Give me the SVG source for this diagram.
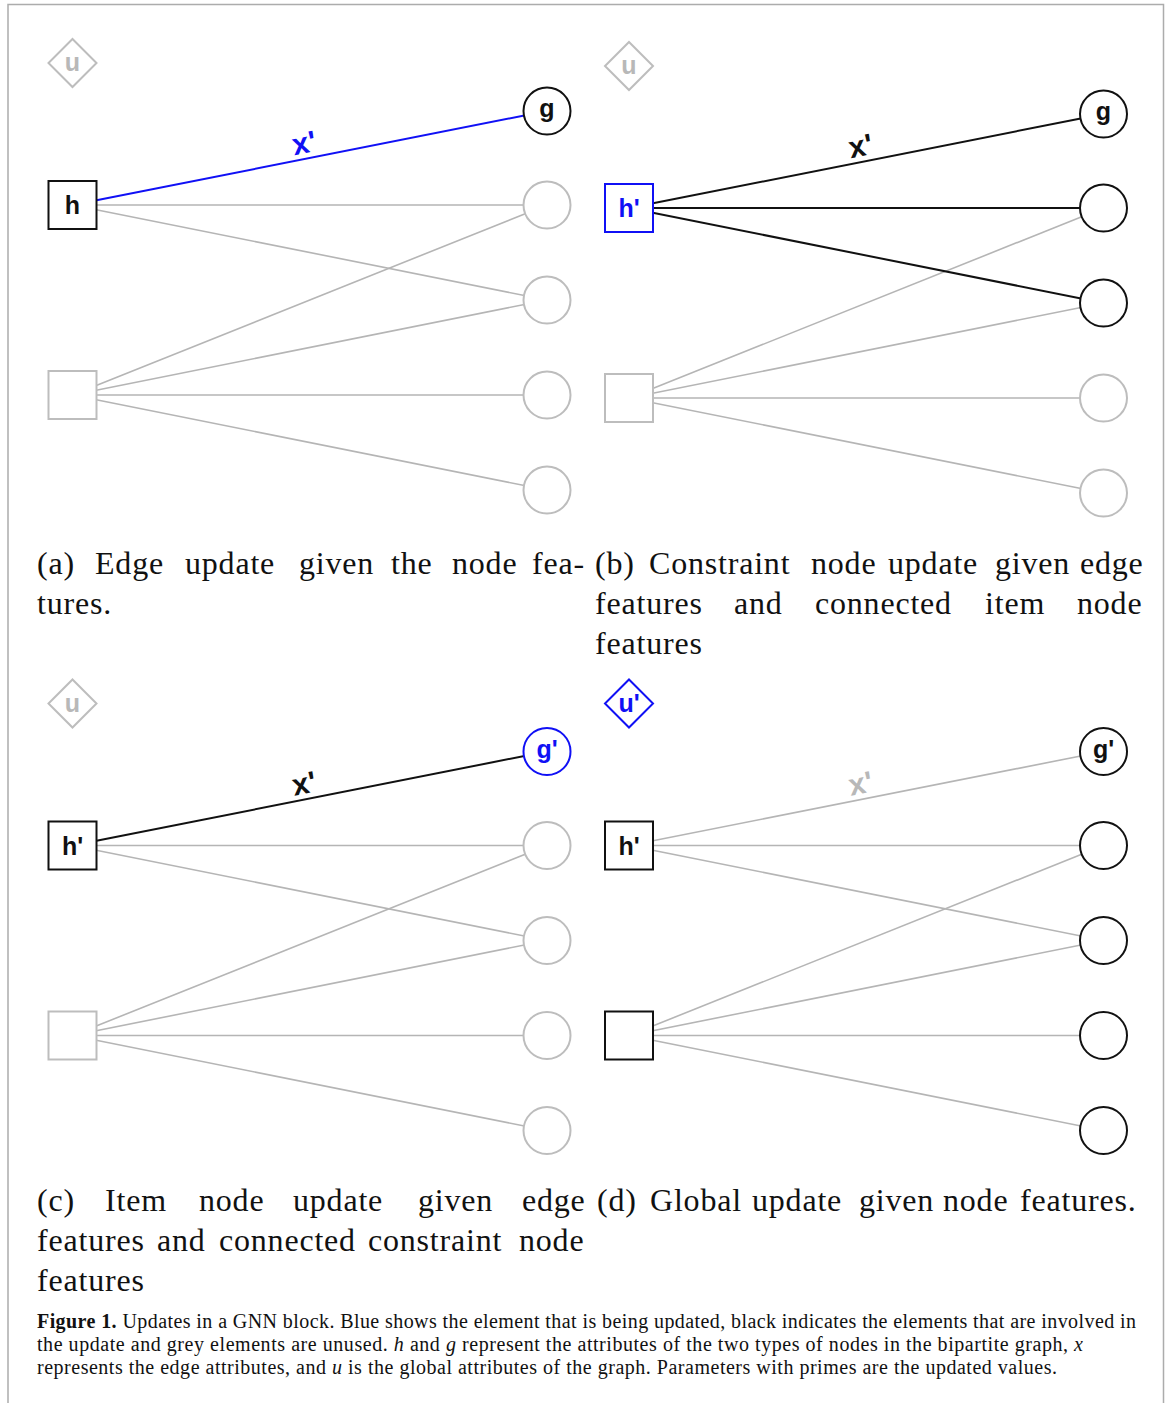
<svg xmlns="http://www.w3.org/2000/svg" width="1170" height="1403" viewBox="0 0 1170 1403">
<style>
.frame{fill:none;stroke:#acacac;stroke-width:1.5}
.eg{stroke:#b5b5b5;stroke-width:1.6;fill:none}
.ek{stroke:#111;stroke-width:2;fill:none}
.eb{stroke:#1010f5;stroke-width:2;fill:none}
.ng{fill:#fff;stroke:#bdbdbd;stroke-width:2}
.nk{fill:#fff;stroke:#111;stroke-width:2}
.nb{fill:#fff;stroke:#1010f5;stroke-width:2}
.lb{font-family:"Liberation Sans",Arial,Helvetica,sans-serif;font-weight:bold;font-size:25px;text-anchor:middle}
.lx{font-family:"Liberation Sans",Arial,Helvetica,sans-serif;font-weight:bold;font-size:30px;text-anchor:middle}
.tg{fill:#b8b8b8}
.tk{fill:#111}
.tb{fill:#1010f5}
.cap{font-family:"Liberation Serif","Times New Roman",serif;font-size:32px;letter-spacing:0.8px;fill:#111}
.fig{font-family:"Liberation Serif","Times New Roman",serif;font-size:20px;fill:#111}
</style>
<path class="frame" d="M8,1410 V4.5 H1163.5 V1410"/>

<!-- Panel (a) -->
<g id="panel-a">
  <g id="a-connectors">
    <line class="eg" x1="72.5" y1="205" x2="547" y2="205"/>
    <line class="eg" x1="72.5" y1="205" x2="547" y2="300"/>
    <line class="eg" x1="72.5" y1="395" x2="547" y2="205"/>
    <line class="eg" x1="72.5" y1="395" x2="547" y2="300"/>
    <line class="eg" x1="72.5" y1="395" x2="547" y2="395"/>
    <line class="eg" x1="72.5" y1="395" x2="547" y2="490"/>
    <line class="eb" x1="72.5" y1="205" x2="547" y2="111"/>
    <text class="lx tb" x="306" y="153" transform="rotate(-11 306 153)">x'</text>
  </g>
  <g id="a-u"><polygon class="ng" points="72.5,39 96.5,63 72.5,87 48.5,63"/><text class="lb tg" x="72.5" y="71">u</text></g>
  <g id="a-h"><rect class="nk" x="48.5" y="181" width="48" height="48"/><text class="lb tk" x="72.5" y="214">h</text></g>
  <g id="a-h2"><rect class="ng" x="48.5" y="371" width="48" height="48"/></g>
  <g id="a-g"><circle class="nk" cx="547" cy="111" r="23.5"/><text class="lb tk" x="547" y="117">g</text></g>
  <g id="a-c1"><circle class="ng" cx="547" cy="205" r="23.5"/></g>
  <g id="a-c2"><circle class="ng" cx="547" cy="300" r="23.5"/></g>
  <g id="a-c3"><circle class="ng" cx="547" cy="395" r="23.5"/></g>
  <g id="a-c4"><circle class="ng" cx="547" cy="490" r="23.5"/></g>
</g>

<!-- Panel (b) -->
<g id="panel-b" transform="translate(556.5,3)">
  <g id="b-connectors">
    <line class="eg" x1="72.5" y1="395" x2="547" y2="205"/>
    <line class="eg" x1="72.5" y1="395" x2="547" y2="300"/>
    <line class="eg" x1="72.5" y1="395" x2="547" y2="395"/>
    <line class="eg" x1="72.5" y1="395" x2="547" y2="490"/>
    <line class="ek" x1="72.5" y1="205" x2="547" y2="111"/>
    <line class="ek" x1="72.5" y1="205" x2="547" y2="205"/>
    <line class="ek" x1="72.5" y1="205" x2="547" y2="300"/>
    <text class="lx tk" x="306" y="153" transform="rotate(-11 306 153)">x'</text>
  </g>
  <g id="b-u"><polygon class="ng" points="72.5,39 96.5,63 72.5,87 48.5,63"/><text class="lb tg" x="72.5" y="71">u</text></g>
  <g id="b-h"><rect class="nb" x="48.5" y="181" width="48" height="48"/><text class="lb tb" x="72.5" y="214">h'</text></g>
  <g id="b-h2"><rect class="ng" x="48.5" y="371" width="48" height="48"/></g>
  <g id="b-g"><circle class="nk" cx="547" cy="111" r="23.5"/><text class="lb tk" x="547" y="117">g</text></g>
  <g id="b-c1"><circle class="nk" cx="547" cy="205" r="23.5"/></g>
  <g id="b-c2"><circle class="nk" cx="547" cy="300" r="23.5"/></g>
  <g id="b-c3"><circle class="ng" cx="547" cy="395" r="23.5"/></g>
  <g id="b-c4"><circle class="ng" cx="547" cy="490" r="23.5"/></g>
</g>

<!-- Panel (c) -->
<g id="panel-c" transform="translate(0,640.5)">
  <g id="c-connectors">
    <line class="eg" x1="72.5" y1="205" x2="547" y2="205"/>
    <line class="eg" x1="72.5" y1="205" x2="547" y2="300"/>
    <line class="eg" x1="72.5" y1="395" x2="547" y2="205"/>
    <line class="eg" x1="72.5" y1="395" x2="547" y2="300"/>
    <line class="eg" x1="72.5" y1="395" x2="547" y2="395"/>
    <line class="eg" x1="72.5" y1="395" x2="547" y2="490"/>
    <line class="ek" x1="72.5" y1="205" x2="547" y2="111"/>
    <text class="lx tk" x="306" y="153" transform="rotate(-11 306 153)">x'</text>
  </g>
  <g id="c-u"><polygon class="ng" points="72.5,39 96.5,63 72.5,87 48.5,63"/><text class="lb tg" x="72.5" y="71">u</text></g>
  <g id="c-h"><rect class="nk" x="48.5" y="181" width="48" height="48"/><text class="lb tk" x="72.5" y="214">h'</text></g>
  <g id="c-h2"><rect class="ng" x="48.5" y="371" width="48" height="48"/></g>
  <g id="c-g"><circle class="nb" cx="547" cy="111" r="23.5"/><text class="lb tb" x="547" y="117">g'</text></g>
  <g id="c-c1"><circle class="ng" cx="547" cy="205" r="23.5"/></g>
  <g id="c-c2"><circle class="ng" cx="547" cy="300" r="23.5"/></g>
  <g id="c-c3"><circle class="ng" cx="547" cy="395" r="23.5"/></g>
  <g id="c-c4"><circle class="ng" cx="547" cy="490" r="23.5"/></g>
</g>

<!-- Panel (d) -->
<g id="panel-d" transform="translate(556.5,640.5)">
  <g id="d-connectors">
    <line class="eg" x1="72.5" y1="205" x2="547" y2="111"/>
    <line class="eg" x1="72.5" y1="205" x2="547" y2="205"/>
    <line class="eg" x1="72.5" y1="205" x2="547" y2="300"/>
    <line class="eg" x1="72.5" y1="395" x2="547" y2="205"/>
    <line class="eg" x1="72.5" y1="395" x2="547" y2="300"/>
    <line class="eg" x1="72.5" y1="395" x2="547" y2="395"/>
    <line class="eg" x1="72.5" y1="395" x2="547" y2="490"/>
    <text class="lx tg" x="306" y="153" transform="rotate(-11 306 153)">x'</text>
  </g>
  <g id="d-u"><polygon class="nb" points="72.5,39 96.5,63 72.5,87 48.5,63"/><text class="lb tb" x="72.5" y="71">u'</text></g>
  <g id="d-h"><rect class="nk" x="48.5" y="181" width="48" height="48"/><text class="lb tk" x="72.5" y="214">h'</text></g>
  <g id="d-h2"><rect class="nk" x="48.5" y="371" width="48" height="48"/></g>
  <g id="d-g"><circle class="nk" cx="547" cy="111" r="23.5"/><text class="lb tk" x="547" y="117">g'</text></g>
  <g id="d-c1"><circle class="nk" cx="547" cy="205" r="23.5"/></g>
  <g id="d-c2"><circle class="nk" cx="547" cy="300" r="23.5"/></g>
  <g id="d-c3"><circle class="nk" cx="547" cy="395" r="23.5"/></g>
  <g id="d-c4"><circle class="nk" cx="547" cy="490" r="23.5"/></g>
</g>

<!-- Sub-captions -->
<g id="captions">
  <text class="cap" y="574"><tspan x="37">(a)</tspan> <tspan x="95">Edge</tspan> <tspan x="185">update</tspan> <tspan x="299">given</tspan> <tspan x="391">the</tspan> <tspan x="452">node</tspan> <tspan x="532">fea-</tspan></text>
  <text class="cap" x="37" y="614">tures.</text>

  <text class="cap" y="574"><tspan x="595">(b)</tspan> <tspan x="649">Constraint</tspan> <tspan x="811">node</tspan> <tspan x="888">update</tspan> <tspan x="995">given</tspan> <tspan x="1080">edge</tspan></text>
  <text class="cap" y="614"><tspan x="595">features</tspan> <tspan x="734">and</tspan> <tspan x="815">connected</tspan> <tspan x="985">item</tspan> <tspan x="1077">node</tspan></text>
  <text class="cap" x="595" y="654">features</text>

  <text class="cap" y="1211"><tspan x="37">(c)</tspan> <tspan x="105">Item</tspan> <tspan x="199">node</tspan> <tspan x="293">update</tspan> <tspan x="418">given</tspan> <tspan x="522">edge</tspan></text>
  <text class="cap" y="1251"><tspan x="37">features</tspan> <tspan x="157">and</tspan> <tspan x="219">connected</tspan> <tspan x="368">constraint</tspan> <tspan x="519">node</tspan></text>
  <text class="cap" x="37" y="1291">features</text>

  <text class="cap" y="1211"><tspan x="597">(d)</tspan> <tspan x="650">Global</tspan> <tspan x="752">update</tspan> <tspan x="859">given</tspan> <tspan x="943">node</tspan> <tspan x="1020">features.</tspan></text>
</g>

<!-- Figure caption -->
<g id="figure-caption">
  <text class="fig" x="37" y="1328" textLength="1099" lengthAdjust="spacing"><tspan font-weight="bold">Figure 1.</tspan> Updates in a GNN block. Blue shows the element that is being updated, black indicates the elements that are involved in</text>
  <text class="fig" x="37" y="1351" textLength="1046" lengthAdjust="spacing">the update and grey elements are unused. <tspan font-style="italic">h</tspan> and <tspan font-style="italic">g</tspan> represent the attributes of the two types of nodes in the bipartite graph, <tspan font-style="italic">x</tspan></text>
  <text class="fig" x="37" y="1374" textLength="1020" lengthAdjust="spacing">represents the edge attributes, and <tspan font-style="italic">u</tspan> is the global attributes of the graph. Parameters with primes are the updated values.</text>
</g>
</svg>
